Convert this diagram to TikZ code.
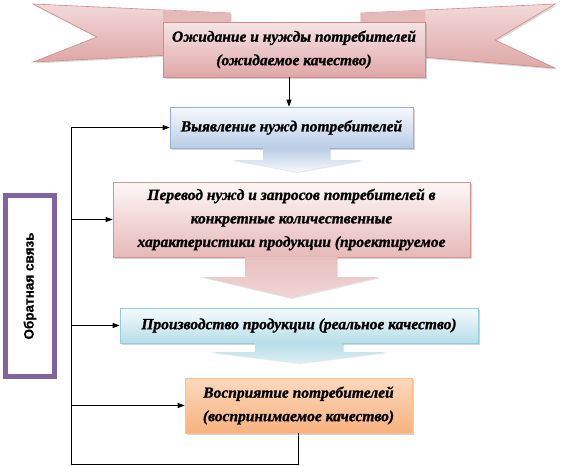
\documentclass[tikz,border=0pt]{standalone}
\usepackage{fontspec}
\setmainfont{Liberation Serif}
\setsansfont{Liberation Sans}
\newfontfamily\stagefont{Liberation Serif}[FakeBold=1.2]
\newfontfamily\fbfont{Liberation Sans}[FakeBold=0.8]
\usetikzlibrary{shadows,arrows.meta,calc}

\definecolor{ribLight}{HTML}{F2D9D9}
\definecolor{ribDark}{HTML}{DFA7A7}
\definecolor{ribLine}{HTML}{D08A89}
\definecolor{blueLight}{HTML}{F6F9FD}
\definecolor{blueDark}{HTML}{B9CDE5}
\definecolor{blueLine}{HTML}{95B3D7}
\definecolor{pinkLight}{HTML}{FDF7F7}
\definecolor{pinkDark}{HTML}{E6B9B8}
\definecolor{pinkLine}{HTML}{D99594}
\definecolor{cyanLight}{HTML}{F5FBFD}
\definecolor{cyanDark}{HTML}{B7DEE8}
\definecolor{cyanLine}{HTML}{93CDDD}
\definecolor{orangeLight}{HTML}{FCD9BD}
\definecolor{orangeDark}{HTML}{F8B27F}
\definecolor{orangeLine}{HTML}{FAC090}
\definecolor{fbPurple}{HTML}{8064A2}

\begin{document}
\begin{tikzpicture}[
    x=1pt, y=-1pt,
    stage/.style={rectangle, draw=#1, line width=0.7pt, inner sep=0pt, align=center,
      font=\stagefont\fontsize{15.5}{23.5}\selectfont\bfseries\itshape,
      drop shadow={shadow xshift=2pt, shadow yshift=-2pt, opacity=0.35}},
    wing/.style={draw=ribLine, line width=0.6pt, top color=ribLight, bottom color=ribDark,
      drop shadow={shadow xshift=1.5pt, shadow yshift=-1.5pt, opacity=0.3}},
    flow/.style={draw=none, drop shadow={shadow xshift=1pt, shadow yshift=-1pt, opacity=0.2}},
    link/.style={line width=0.7pt, -{Triangle[length=7pt, width=5pt]}},
    >=Triangle
]
    \useasboundingbox (0,0) rectangle (563,466);

    % banner
    \path[wing] (33,4) -- (230,13) -- (230,52) -- (33,62) -- (97,37) -- cycle;
    \path[wing] (555,4) -- (361,13) -- (361,52) -- (555,68) -- (495,40) -- cycle;
    \fill[ribDark!80] (163,10) -- (230,13) -- (230,22) -- (163,22) -- cycle;
    \fill[ribDark!80] (425,10) -- (361,13) -- (361,22) -- (425,22) -- cycle;
    \node[stage=ribLine, top color=ribLight!70, bottom color=ribDark,
          minimum width=262pt, minimum height=55pt] (need) at (294,49.5)
        {Ожидание и нужды потребителей\\(ожидаемое качество)};

    % stages
    \node[stage=blueLine, top color=blueLight, bottom color=blueDark,
          minimum width=243pt, minimum height=41pt] (find) at (291.5,127.5)
        {Выявление нужд потребителей};
    \node[stage=pinkLine, top color=pinkLight, bottom color=pinkDark,
          minimum width=357pt, minimum height=75pt] (spec) at (291.5,219.5)
        {Перевод нужд и запросов потребителей в\\конкретные количественные\\характеристики продукции (проектируемое};
    \node[stage=cyanLine, top color=cyanLight, bottom color=cyanDark,
          minimum width=358pt, minimum height=35pt] (make) at (299,325.5)
        {Производство продукции (реальное качество)};
    \node[stage=orangeLine, top color=orangeLight, bottom color=orangeDark,
          minimum width=227pt, minimum height=55pt] (feel) at (298.5,405.5)
        {Восприятие потребителей\\(воспринимаемое качество)};

    % block arrows
    \path[flow, top color=blueDark, bottom color=blueLight]
        (263,148) -- (330,148) -- (330,160) -- (363,160) -- (297,172)
        -- (232,160) -- (263,160) -- cycle;
    \path[flow, top color=pinkDark!90, bottom color=pinkDark!60]
        (245,257) -- (337,257) -- (337,277) -- (380,277) -- (291,298)
        -- (202,277) -- (245,277) -- cycle;
    \path[flow, top color=cyanDark, bottom color=cyanDark!50]
        (255,343) -- (343,343) -- (343,352) -- (388,352) -- (299,363)
        -- (210,352) -- (255,352) -- cycle;

    % feedback
    \node[draw=fbPurple, line width=5pt, fill=white, minimum width=49pt, minimum height=181pt,
          inner sep=0pt] (fb) at (30,286) {};
    \draw[fbPurple, line width=1pt] ($(fb.north west)+(4,4)$) rectangle ($(fb.south east)+(-4,-4)$);
    \node[rotate=90, font=\fbfont\bfseries\fontsize{13.5}{15}\selectfont] (fbtext) at (fb.center) {Обратная связь};

    \coordinate (loop) at (71,464);
    \draw[link] ([xshift=-5pt]need.south) -- ([xshift=-5pt]need.south |- find.north);
    \draw[line width=0.7pt] (feel.south) |- (loop) -- (loop |- find.west);
    \draw[link] (loop |- find.west) -- (find.west);
    \draw[link] (loop |- spec.west) -- (spec.west);
    \draw[link] (loop |- make.west) -- (make.west);
    \draw[link] (loop |- feel.west) -- (feel.west);
\end{tikzpicture}
\end{document}
